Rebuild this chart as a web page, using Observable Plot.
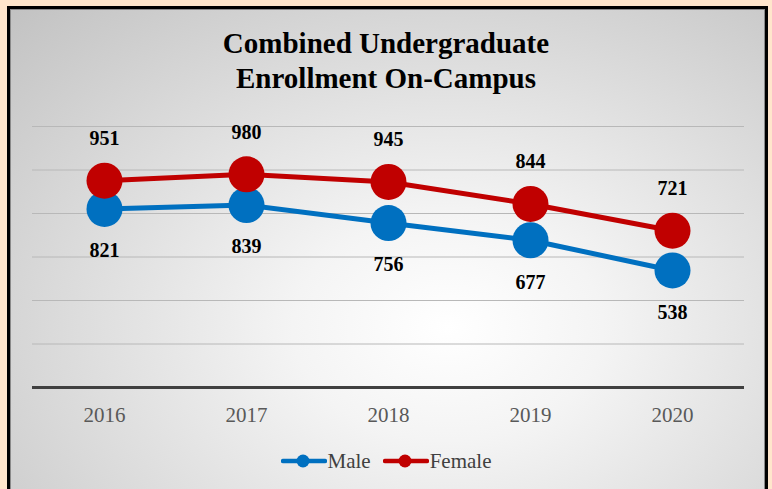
<!DOCTYPE html>
<html>
<head>
<meta charset="utf-8">
<script src="https://cdn.jsdelivr.net/npm/d3@7"></script>
<script src="https://cdn.jsdelivr.net/npm/@observablehq/plot@0.6"></script>
<style>
  html, body { margin: 0; padding: 0; width: 772px; height: 489px; overflow: hidden; background: #FFE6CC; }
  #frame {
    position: absolute; left: 7px; top: 6px; width: 761px; height: 520px;
    box-sizing: border-box; border: 3px solid #000;
    box-shadow: inset 0 0 0 1px #8a8a8a;
    background: radial-gradient(ellipse farthest-corner at 58% 62%, #ffffff 0%, #f4f4f4 25%, #c2c2c2 100%);
  }
  #title {
    position: absolute; left: 0; top: 26px; width: 772px; text-align: center;
    font-family: "Liberation Serif", "Times New Roman", serif; font-weight: bold;
    font-size: 29px; line-height: 35px; color: #000;
  }
  #chart { position: absolute; left: 0; top: 0; }
  #legend {
    position: absolute; left: 0; top: 450px; width: 772px;
    display: flex; justify-content: center; align-items: center;
  }
  #legend .item { display: flex; align-items: center; margin: 0 6px; }
  #legend span { font-family: "Liberation Serif", "Times New Roman", serif; font-size: 21px; color: #404040; line-height: 22px; }
  #legend svg { display: block; margin-right: 1px; }
</style>
</head>
<body>
<div id="frame"></div>
<div id="chart"></div>
<div id="title">Combined Undergraduate<br>Enrollment On-Campus</div>
<div id="legend"></div>
<script>
const years = ["2016", "2017", "2018", "2019", "2020"];
const male = [821, 839, 756, 677, 538];
const female = [951, 980, 945, 844, 721];
const gridValues = [200, 400, 600, 800, 1000, 1200];
const seriesNames = ["Male", "Female"];
const seriesColors = ["#0070C0", "#C00000"];

const maleData = years.map((y, i) => ({year: y, value: male[i]}));
const femaleData = years.map((y, i) => ({year: y, value: female[i]}));

const font = "Liberation Serif, Times New Roman, serif";

const plot = Plot.plot({
  width: 772,
  height: 440,
  marginLeft: 32,
  marginRight: 28,
  marginTop: 126,
  marginBottom: 53,
  style: {background: "transparent", fontFamily: font, overflow: "visible"},
  x: {type: "point", domain: years, padding: 0.5, label: null},
  y: {domain: [0, 1200], axis: null},
  marks: [
    Plot.ruleY(gridValues, {stroke: "#b8b8b8", strokeWidth: 1}),
    Plot.ruleY([0], {stroke: "#404040", strokeWidth: 3}),
    Plot.axisX({tickSize: 0, tickPadding: 20, fontSize: 21, fill: "#595959", label: null, fontFamily: font}),
    Plot.line(maleData, {x: "year", y: "value", stroke: seriesColors[0], strokeWidth: 5}),
    Plot.dot(maleData, {x: "year", y: "value", r: 18, fill: seriesColors[0], stroke: "none"}),
    Plot.line(femaleData, {x: "year", y: "value", stroke: seriesColors[1], strokeWidth: 5}),
    Plot.dot(femaleData, {x: "year", y: "value", r: 18, fill: seriesColors[1], stroke: "none"}),
    Plot.text(maleData, {x: "year", y: "value", text: d => String(d.value), dy: 42, fontSize: 20, fontWeight: "bold", fill: "#000", fontFamily: font}),
    Plot.text(femaleData, {x: "year", y: "value", text: d => String(d.value), dy: -42, fontSize: 20, fontWeight: "bold", fill: "#000", fontFamily: font})
  ]
});
document.getElementById("chart").appendChild(plot);

const legend = document.getElementById("legend");
seriesNames.forEach((name, i) => {
  const item = document.createElement("div");
  item.className = "item";
  item.innerHTML = `<svg width="46" height="16"><line x1="2" y1="8" x2="44" y2="8" stroke="${seriesColors[i]}" stroke-width="4.5" stroke-linecap="round"/><circle cx="22" cy="8" r="6.5" fill="${seriesColors[i]}"/></svg><span>${name}</span>`;
  legend.appendChild(item);
});
</script>
</body>
</html>
